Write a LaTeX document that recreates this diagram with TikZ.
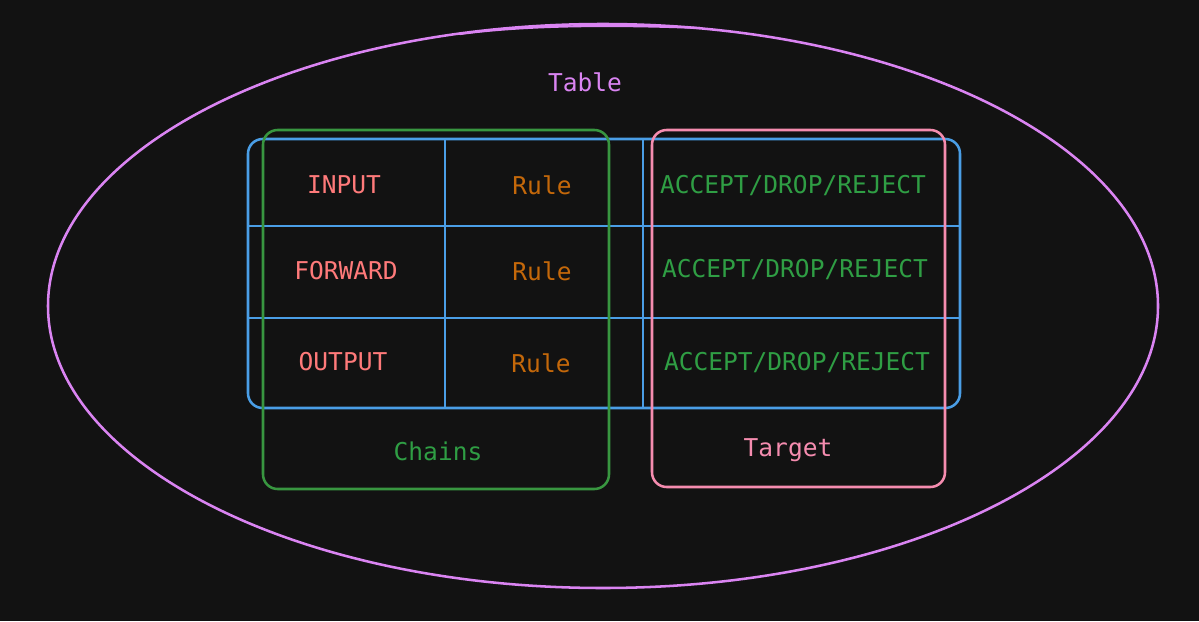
\documentclass[tikz,border=0pt]{standalone}
\usepackage{fontspec}
\newfontfamily\monofont{DejaVu Sans Mono}
\definecolor{bgdark}{RGB}{18,18,18}
\definecolor{tableviolet}{RGB}{218,132,242}
\definecolor{chainred}{RGB}{255,122,122}
\definecolor{ruleorange}{RGB}{196,104,10}
\definecolor{targetgreen}{RGB}{47,158,68}
\definecolor{chaingreen}{RGB}{56,150,64}
\definecolor{gridblue}{RGB}{74,158,230}
\definecolor{targetpink}{RGB}{245,140,175}
\tikzset{
  txt/.style={inner sep=0.75pt, font=\monofont\fontsize{18.4}{22}\selectfont},
  box/.style={line width=1.9pt, rounded corners=11pt}
}
\begin{document}
\begin{tikzpicture}[x=0.75pt,y=0.75pt,yscale=-1,xscale=1]
  %background
  \fill [bgdark] (0,0) rectangle (1199,621);
  \useasboundingbox (0,0) rectangle (1199,621);

  %Shape: Ellipse [id:table]
  \draw [tableviolet, line width=1.9pt] (603,306) ellipse [x radius=555, y radius=282];
  \draw [tableviolet, line width=1.6pt] (460,34) .. controls (520,26) and (600,24) .. (700,28) ;

  %Shape: Rectangle [id:grid]
  \draw [gridblue, box] (248,139) rectangle (960,408);
  %Straight Lines [id:grid rows]
  \draw [gridblue, line width=1.9pt] (248,226) -- (960,226);
  \draw [gridblue, line width=1.9pt] (248,318) -- (960,318);
  %Straight Lines [id:grid columns]
  \draw [gridblue, line width=1.9pt] (445,139) -- (445,408);
  \draw [gridblue, line width=1.9pt] (643,139) -- (643,408);

  %Shape: Rectangle [id:chains]
  \draw [chaingreen, box] (263,130) rectangle (609,489);
  %Shape: Rectangle [id:target]
  \draw [targetpink, box] (652,130) rectangle (945,487);

  % Text Node
  \node [txt, text=tableviolet] (tbl) at (585,82) {Table};
  % Text Node
  \node [txt, text=chainred] (input) at (344,185) {INPUT};
  \node [txt, text=chainred] (forward) at (346,271) {FORWARD};
  \node [txt, text=chainred] (output) at (343,362) {OUTPUT};
  % Text Node
  \node [txt, text=ruleorange] (rule1) at (542,185) {Rule};
  \node [txt, text=ruleorange] (rule2) at (542,271) {Rule};
  \node [txt, text=ruleorange] (rule3) at (541,363) {Rule};
  % Text Node
  \node [txt, text=targetgreen] (verdict1) at (793,186) {ACCEPT/DROP/REJECT};
  \node [txt, text=targetgreen] (verdict2) at (795,270) {ACCEPT/DROP/REJECT};
  \node [txt, text=targetgreen] (verdict3) at (797,363) {ACCEPT/DROP/REJECT};
  % Text Node
  \node [txt, text=targetgreen] (chainslbl) at (438,451) {Chains};
  \node [txt, text=targetpink] (targetlbl) at (788,450) {Target};
\end{tikzpicture}
\end{document}
